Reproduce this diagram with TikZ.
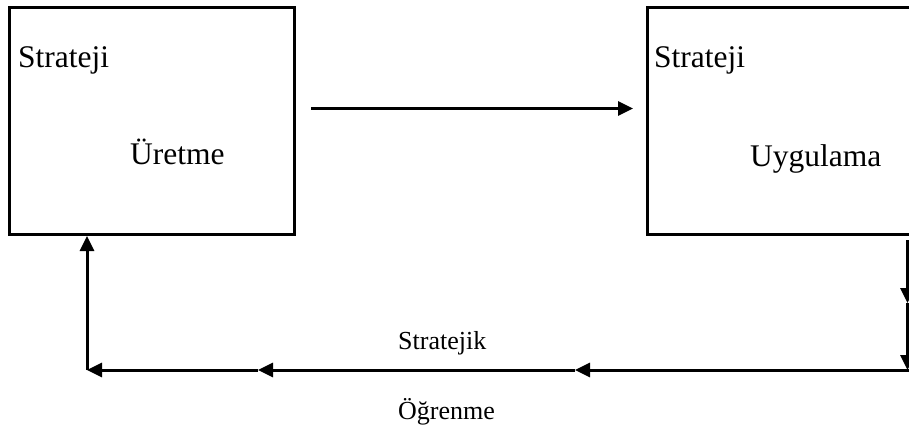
\documentclass[tikz,border=0pt]{standalone}
\usepackage{fontspec}
\setmainfont{Liberation Serif}
\usetikzlibrary{arrows.meta}
\begin{document}
\begin{tikzpicture}[x=1pt,y=-1pt,
  boxline/.style={draw,line width=3pt,inner sep=0pt},
  arr/.style={line width=3pt,-{Triangle[length=15pt,width=14pt]}},
  boxtext/.style={font=\fontsize{31.5}{36}\selectfont,anchor=base west,inner sep=0pt},
  looptext/.style={font=\fontsize{26}{30}\selectfont,anchor=base west,inner sep=0pt}]
  \clip (0,0) rectangle (909,436);
  \useasboundingbox (0,0) rectangle (909,436);
  % the two stages
  \node[boxline,minimum width=285pt,minimum height=227pt,anchor=north west] (gen) at (8,6) {};
  \node[boxline,minimum width=290pt,minimum height=227pt,anchor=north west] (impl) at (646,6) {};
  \node[boxtext] (genA) at (18,67) {Strateji};
  \node[boxtext] (genB) at (130,164) {Üretme};
  \node[boxtext] (implA) at (654,67) {Strateji};
  \node[boxtext] (implB) at (750,166) {Uygulama};
  % forward arrow
  \draw[arr] ([shift={(15,-12.5)}]gen.east) -- ([shift={(-13,-12.5)}]impl.west);
  % learning loop
  \coordinate (r0) at (907.5,240);
  \coordinate (r1) at (907.5,303);
  \coordinate (r2) at (907.5,370);
  \coordinate (b1) at (575,370);
  \coordinate (b2) at (258,370);
  \coordinate (b3) at (87,370);
  \draw[arr] (r0) -- (r1);
  \draw[arr] (r1) -- (r2);
  \draw[line width=3pt] (r2) -- (912,370);
  \draw[arr] (r2) -- (b1);
  \draw[arr] (b1) -- (b2);
  \draw[arr] (b2) -- (b3);
  \draw[arr] (b3) -- (b3 |- gen.south);
  \node[looptext] (lt1) at (398,349) {Stratejik};
  \node[looptext] (lt2) at (398,419) {Öğrenme};
\end{tikzpicture}
\end{document}
